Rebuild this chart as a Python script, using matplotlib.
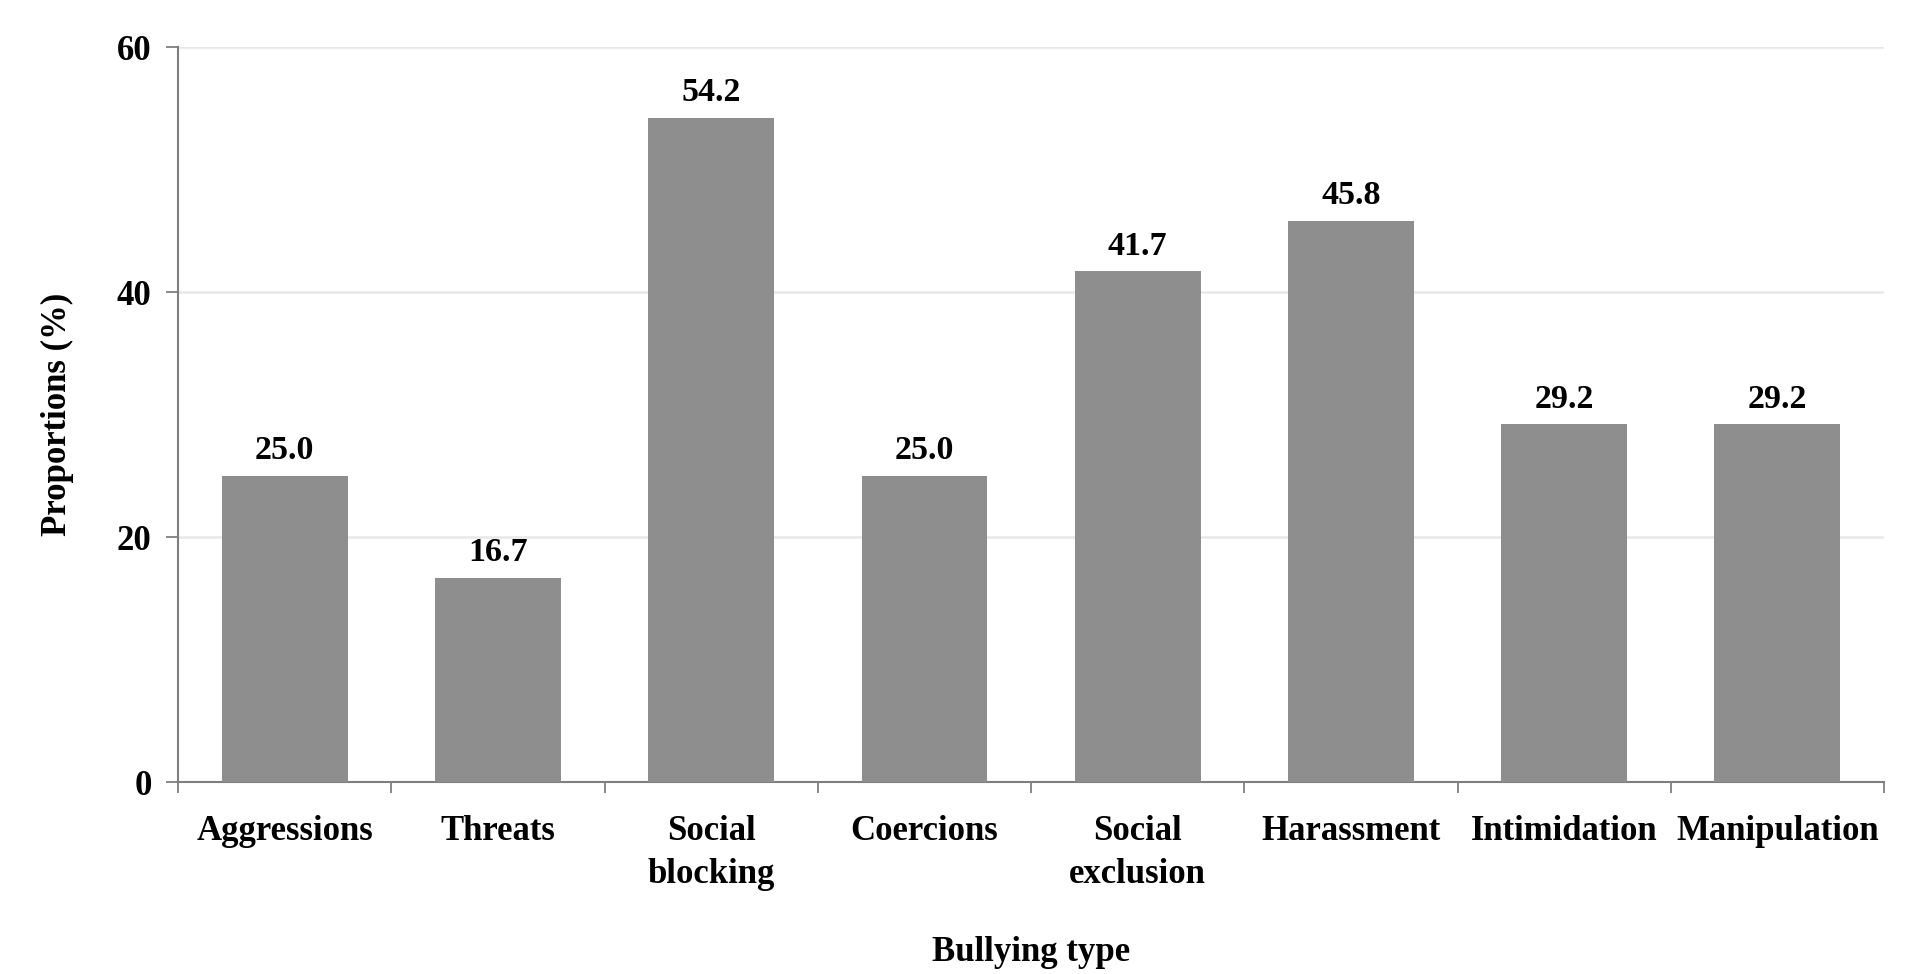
import matplotlib.pyplot as plt
import numpy as np

# Datos
categorias = ["Aggressions", "Threats", "Social\nblocking", "Coercions",
              "Social\nexclusion", "Harassment", "Intimidation", "Manipulation"]
proporciones = [25.0, 16.7, 54.2, 25.0, 41.7, 45.8, 29.2, 29.2]
yticks = [0, 20, 40, 60]

plt.rcParams['font.family'] = ['Liberation Serif', 'DejaVu Serif']
plt.rcParams['font.weight'] = 'bold'

fig = plt.figure(figsize=(19.25, 9.74), dpi=100)
ax = fig.add_axes([0.0925, 0.197, 0.8862, 0.7547])

x = np.arange(len(categorias))
ax.bar(x, proporciones, width=0.59, color='#8e8e8e', zorder=3)

# Etiquetas de valor sobre cada barra
for xi, v in zip(x, proporciones):
    ax.annotate(f"{v:.1f}", (xi, v), xytext=(0, 7), textcoords='offset points',
                ha='center', va='bottom', fontsize=24.5, fontweight='bold')

ax.set_xlim(-0.5, len(categorias) - 0.5)
ax.set_ylim(0, 60)
ax.set_yticks(yticks)
ax.set_yticklabels([str(t) for t in yticks], fontsize=25, fontweight='bold')
ax.set_xticks(x)
ax.set_xticklabels(categorias, fontsize=25, fontweight='bold', linespacing=1.4)
ax.set_xticks(np.arange(len(categorias) + 1) - 0.5, minor=True)

ax.tick_params(axis='x', which='major', length=0, pad=24)
ax.tick_params(axis='x', which='minor', length=8, width=1.3, color='#7f7f7f')
ax.tick_params(axis='y', length=9, width=1.3, color='#7f7f7f', pad=10)

ax.grid(axis='y', color='#e8e8e8', linewidth=1.8, zorder=0)
for lado in ['top', 'right']:
    ax.spines[lado].set_visible(False)
for lado in ['left', 'bottom']:
    ax.spines[lado].set_color('#7f7f7f')
    ax.spines[lado].set_linewidth(1.5)

ax.set_xlabel("Bullying type", fontsize=25, fontweight='bold', labelpad=32)
ax.set_ylabel("Proportions (%)", fontsize=25, fontweight='bold', labelpad=31)

fig.savefig("out.png", dpi=100)
